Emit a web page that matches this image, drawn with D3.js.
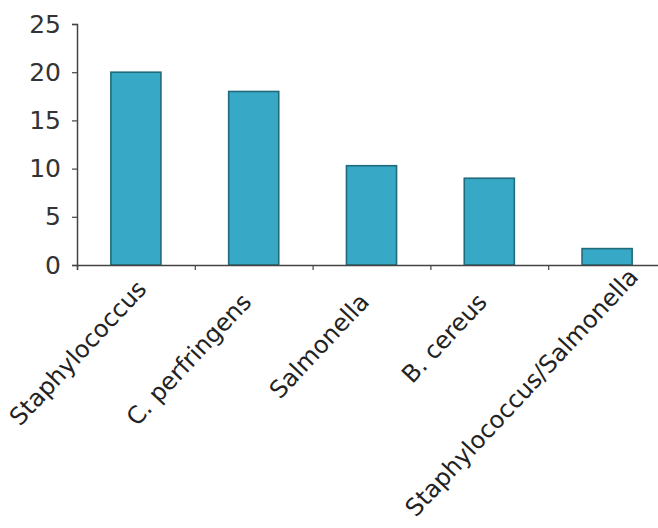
<!DOCTYPE html>
<html>
<head>
<meta charset="utf-8">
<script src="https://cdn.jsdelivr.net/npm/d3@7"></script>
<style>
  body { margin: 0; background: #fff; }
  svg { display: block; }
</style>
</head>
<body>
<script>
// data
const categories = ['Staphylococcus', 'C. perfringens', 'Salmonella', 'B. cereus', 'Staphylococcus/Salmonella'];
const values = [20, 18, 10.3, 9, 1.7];
const yTicks = [0, 5, 10, 15, 20, 25];

const width = 658;
const height = 528;
const margin = ({top: 24, right: -8, bottom: 263, left: 77});
const font = 'Verdana, "DejaVu Sans", sans-serif';
const labelAngle = -47;

const svg = d3.select('body')
  .append('svg')
  .attr('width', width)
  .attr('height', height);

// x: one band per category, bars centred in the band
const xScale = d3.scaleBand()
  .domain(categories)
  .range([margin.left, width - margin.right])
  .paddingInner(0.575)
  .paddingOuter(0.2875);

// edges of the categories, where the small ticks sit
const xEdge = d3.scaleLinear()
  .domain([0, categories.length])
  .range([margin.left, width - margin.right]);

const yScale = d3.scaleLinear()
  .domain([0, 25])
  .range([height - margin.bottom, margin.top]);

// bars
svg.append('g')
  .selectAll('rect')
  .data(values)
  .join('rect')
  .attr('x', (d, i) => xScale(categories[i]))
  .attr('y', d => yScale(d))
  .attr('width', xScale.bandwidth())
  .attr('height', d => yScale(0) - yScale(d))
  .attr('fill', '#38a8c7')
  .attr('stroke', '#1f6b7c')
  .attr('stroke-width', 1.6);

// y axis
const yAxis = svg.append('g')
  .attr('transform', `translate(${margin.left},0)`)
  .call(d3.axisLeft(yScale).tickValues(yTicks).tickSize(5).tickPadding(11));
yAxis.selectAll('text')
  .attr('font-family', font)
  .attr('font-size', 25)
  .attr('fill', '#333');

// x axis (ticks at category edges)
svg.append('g')
  .attr('transform', `translate(0,${yScale(0)})`)
  .call(d3.axisBottom(xEdge).ticks(categories.length).tickSize(5).tickFormat(''));

svg.selectAll('.domain').attr('stroke', '#444').attr('stroke-width', 1.5);
svg.selectAll('.tick line').attr('stroke', '#444').attr('stroke-width', 1.2);

// rotated category labels
const labels = svg.append('g')
  .selectAll('text')
  .data(categories)
  .join('text')
  .attr('font-family', font)
  .attr('font-size', 24)
  .attr('fill', '#222')
  .attr('text-anchor', 'end')
  .text(d => d);

// place each label at its category, then slide long ones back inside the picture
labels.each(function(d) {
  const c = xScale(d) + xScale.bandwidth() / 2;
  let x0 = c - 1;
  let y0 = yScale(0) + 38;
  const el = d3.select(this);
  el.attr('transform', `translate(${x0},${y0}) rotate(${labelAngle})`);
  const box = this.getBoundingClientRect();
  const leftOver = Math.max(0, 4 - box.left);
  const bottomOver = Math.max(0, box.bottom - (height - 6));
  const rightRoom = (width - 14) - (box.right + leftOver);
  x0 += leftOver + Math.min(bottomOver * 2.5, Math.max(0, rightRoom));
  y0 -= leftOver + bottomOver;
  el.attr('transform', `translate(${x0},${y0}) rotate(${labelAngle})`);
});
</script>
</body>
</html>
